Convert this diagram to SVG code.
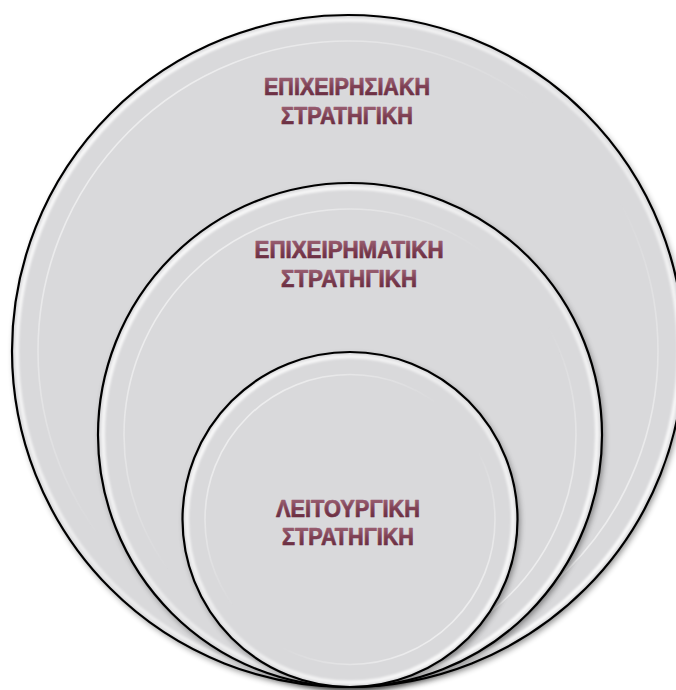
<svg xmlns="http://www.w3.org/2000/svg" width="676" height="690" viewBox="0 0 676 690">
  <defs>
    <!-- soft drop shadow under each disc -->
    <filter id="shadow" x="-10%" y="-10%" width="120%" height="120%">
      <feGaussianBlur in="SourceAlpha" stdDeviation="3"/>
      <feOffset dx="2" dy="3" result="b"/>
      <feComponentTransfer><feFuncA type="linear" slope="0.45"/></feComponentTransfer>
      <feMerge><feMergeNode/><feMergeNode in="SourceGraphic"/></feMerge>
    </filter>
    <filter id="soft" x="-5%" y="-5%" width="110%" height="110%">
      <feGaussianBlur stdDeviation="1.3"/>
    </filter>
    <filter id="faint" x="-5%" y="-5%" width="110%" height="110%">
      <feGaussianBlur stdDeviation="0.7"/>
    </filter>
    <linearGradient id="ink" x1="0" y1="0" x2="0" y2="1">
      <stop offset="0" stop-color="#a36a7c"/>
      <stop offset="0.5" stop-color="#7e3f53"/>
      <stop offset="1" stop-color="#5f2436"/>
    </linearGradient>
    <linearGradient id="rim" x1="0" y1="0" x2="1" y2="1">
      <stop offset="0" stop-color="#ffffff" stop-opacity="0.95"/>
      <stop offset="0.5" stop-color="#ffffff" stop-opacity="0.45"/>
      <stop offset="1" stop-color="#ffffff" stop-opacity="1"/>
    </linearGradient>
    <linearGradient id="ring" x1="0" y1="0" x2="1" y2="1">
      <stop offset="0" stop-color="#ffffff" stop-opacity="0.8"/>
      <stop offset="0.45" stop-color="#ffffff" stop-opacity="0"/>
      <stop offset="0.6" stop-color="#ffffff" stop-opacity="0"/>
      <stop offset="1" stop-color="#ffffff" stop-opacity="0.85"/>
    </linearGradient>
  </defs>
  <style>
    .disc { fill: #d9d9db; }
    .edge { fill: none; stroke: #000; stroke-width: 2.2; }
    .rim { fill: none; stroke: url(#rim); stroke-width: 4; filter: url(#soft); }
    .ring { fill: none; stroke: url(#ring); stroke-width: 1.6; filter: url(#faint); }
    .label { font-family: "Liberation Sans", Arial, sans-serif; font-weight: 700; font-size: 23px; fill: url(#ink); stroke: url(#ink); stroke-width: 0.7; stroke-linejoin: round; text-anchor: middle; }
  </style>

  <!-- outer level -->
  <g id="corporate">
    <circle class="disc" cx="348" cy="351" r="336" filter="url(#shadow)"/>
    <circle class="rim" cx="348" cy="351" r="331"/>
    <circle class="ring" cx="348" cy="351" r="310"/>
    <circle class="edge" cx="348" cy="351" r="336"/>
    <text class="label" x="347" y="95" textLength="166" lengthAdjust="spacingAndGlyphs">ΕΠΙΧΕΙΡΗΣΙΑΚΗ</text>
    <text class="label" x="347" y="124" textLength="132" lengthAdjust="spacingAndGlyphs">ΣΤΡΑΤΗΓΙΚΗ</text>
  </g>

  <!-- middle level -->
  <g id="business">
    <circle class="disc" cx="350" cy="435" r="252" filter="url(#shadow)"/>
    <circle class="rim" cx="350" cy="435" r="247"/>
    <circle class="ring" cx="350" cy="435" r="226"/>
    <circle class="edge" cx="350" cy="435" r="252"/>
    <text class="label" x="349" y="258" textLength="189" lengthAdjust="spacingAndGlyphs">ΕΠΙΧΕΙΡΗΜΑΤΙΚΗ</text>
    <text class="label" x="349" y="287" textLength="136" lengthAdjust="spacingAndGlyphs">ΣΤΡΑΤΗΓΙΚΗ</text>
  </g>

  <!-- inner level -->
  <g id="functional">
    <circle class="disc" cx="350" cy="519.5" r="167.5" filter="url(#shadow)"/>
    <circle class="rim" cx="350" cy="519.5" r="163"/>
    <circle class="ring" cx="350" cy="519.5" r="145"/>
    <circle class="edge" cx="350" cy="519.5" r="167.5"/>
    <text class="label" x="348" y="517" textLength="144" lengthAdjust="spacingAndGlyphs">ΛΕΙΤΟΥΡΓΙΚΗ</text>
    <text class="label" x="348" y="545" textLength="132" lengthAdjust="spacingAndGlyphs">ΣΤΡΑΤΗΓΙΚΗ</text>
  </g>
</svg>
